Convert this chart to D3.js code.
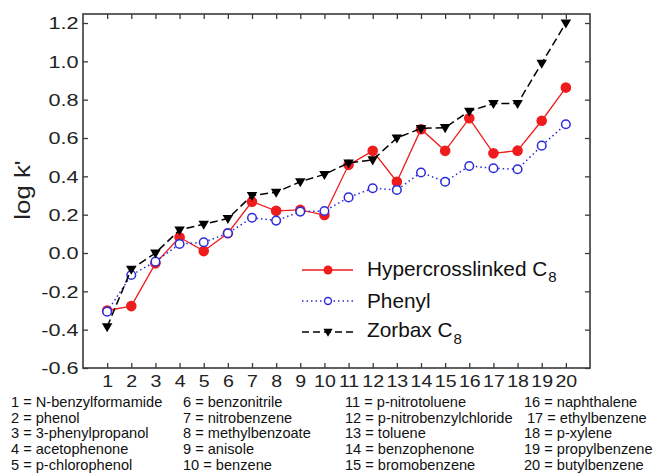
<!DOCTYPE html>
<html>
<head>
<meta charset="utf-8">
<script src="https://cdn.jsdelivr.net/npm/d3@7"></script>
<style>
  html, body { margin: 0; padding: 0; background: #fff; }
  svg { display: block; font-family: "Liberation Sans", Arial, Helvetica, sans-serif; }
</style>
</head>
<body>
<script>
// ---------------- data ----------------
const compounds = [
  "N-benzylformamide", "phenol", "3-phenylpropanol", "acetophenone", "p-chlorophenol",
  "benzonitrile", "nitrobenzene", "methylbenzoate", "anisole", "benzene",
  "p-nitrotoluene", "p-nitrobenzylchloride", "toluene", "benzophenone", "bromobenzene",
  "naphthalene", "ethylbenzene", "p-xylene", "propylbenzene", "butylbenzene"
];
const compoundIds = d3.range(1, 21);
const hypercrosslinkedC8 = [-0.30, -0.277, -0.054, 0.082, 0.01, 0.103, 0.268, 0.22, 0.225, 0.198,
                            0.46, 0.533, 0.372, 0.646, 0.533, 0.703, 0.52, 0.534, 0.69, 0.863];
const phenyl = [-0.306, -0.115, -0.045, 0.047, 0.056, 0.103, 0.184, 0.169, 0.216, 0.219,
                0.29, 0.338, 0.329, 0.42, 0.372, 0.454, 0.442, 0.437, 0.56, 0.672];
const zorbaxC8 = [-0.385, -0.085, 0.0, 0.12, 0.15, 0.18, 0.30, 0.317, 0.372, 0.41,
                  0.47, 0.486, 0.60, 0.65, 0.654, 0.74, 0.78, 0.78, 0.99, 1.20];
const yTicks = [-0.6, -0.4, -0.2, 0.0, 0.2, 0.4, 0.6, 0.8, 1.0, 1.2];
const seriesNames = ["Hypercrosslinked C", "Phenyl", "Zorbax C"];
const seriesSubs = ["8", "", "8"];
const yTitle = "log k'";

// ---------------- layout ----------------
const W = 653, H = 475;
const L = 83, R = 590, T = 14, B = 368;
const svg = d3.select("body").append("svg").attr("width", W).attr("height", H);

const x = d3.scaleLinear().domain([0, 21]).range([L, R]);
const y = d3.scaleLinear().domain([-0.6, 1.247]).range([B, T]);

const frameColor = "#3a3a3a";
const xTickScale = 1.2;
const yTickScale = 1.33;
const tickFont = 16.3;

// axes
const gx = svg.append("g").attr("transform", `translate(0,${B})`)
  .call(d3.axisBottom(x).tickValues(compoundIds).tickSizeInner(-5).tickSizeOuter(0).tickPadding(7.4).tickFormat(d3.format("d")));
const gxTop = svg.append("g").attr("transform", `translate(0,${T})`)
  .call(d3.axisTop(x).tickValues(compoundIds).tickSizeInner(-5).tickSizeOuter(0).tickFormat(""));
const gy = svg.append("g").attr("transform", `translate(${L},0)`)
  .call(d3.axisLeft(y).tickValues(yTicks).tickSizeInner(-5).tickSizeOuter(0).tickFormat(d3.format(".1f")));
const gyR = svg.append("g").attr("transform", `translate(${R},0)`)
  .call(d3.axisRight(y).tickValues(yTicks).tickSizeInner(-5).tickSizeOuter(0).tickFormat(""));

[gx, gxTop, gy, gyR].forEach(g => {
  g.select(".domain").remove();
  g.selectAll(".tick line").attr("stroke", frameColor).attr("stroke-width", 1.3);
});
gx.selectAll(".tick text")
  .attr("font-size", tickFont).attr("fill", "#222")
  .attr("font-family", "Liberation Sans, Arial, sans-serif")
  .attr("transform", `scale(${xTickScale},1)`);
gy.selectAll(".tick text")
  .attr("font-size", tickFont).attr("fill", "#222")
  .attr("font-family", "Liberation Sans, Arial, sans-serif")
  .attr("x", -4.5 / yTickScale)
  .attr("dy", "0.36em")
  .attr("transform", `scale(${yTickScale},1)`)
  .text(d => d3.format(".1f")(d).replace("−", "-"));

// frame
svg.append("rect").attr("x", L).attr("y", T).attr("width", R - L).attr("height", B - T)
  .attr("fill", "none").attr("stroke", frameColor).attr("stroke-width", 1.6);

// y title
svg.append("text")
  .attr("transform", `translate(30,190) rotate(-90) scale(1.2,1)`)
  .attr("text-anchor", "middle")
  .attr("font-size", 21.5).attr("fill", "#222")
  .text(yTitle);

// ---------------- series ----------------
const red = "#ee1c1c", blue = "#2b2bdc", black = "#000";
const line = d3.line().x((d, i) => x(compoundIds[i])).y(d => y(d));

const tri = d3.symbol().type(d3.symbolTriangle).size(48);

function drawRed(g) {
  g.append("path").datum(hypercrosslinkedC8).attr("d", line)
    .attr("fill", "none").attr("stroke", red).attr("stroke-width", 1.3);
  g.selectAll("circle.r").data(hypercrosslinkedC8).join("circle")
    .attr("cx", (d, i) => x(compoundIds[i])).attr("cy", d => y(d)).attr("r", 5.3)
    .attr("fill", red);
}
function drawBlue(g) {
  g.append("path").datum(phenyl).attr("d", line)
    .attr("fill", "none").attr("stroke", blue).attr("stroke-width", 1.5)
    .attr("stroke-dasharray", "1.5,3").attr("stroke-linecap", "butt");
  g.selectAll("circle.b").data(phenyl).join("circle")
    .attr("cx", (d, i) => x(compoundIds[i])).attr("cy", d => y(d)).attr("r", 4.3)
    .attr("fill", "#fff").attr("stroke", blue).attr("stroke-width", 1.5);
}
function drawBlack(g) {
  g.append("path").datum(zorbaxC8).attr("d", line)
    .attr("fill", "none").attr("stroke", black).attr("stroke-width", 1.5)
    .attr("stroke-dasharray", "8,4");
  g.selectAll("path.t").data(zorbaxC8).join("path")
    .attr("d", tri)
    .attr("transform", (d, i) => `translate(${x(compoundIds[i])},${y(d) - 0.5}) rotate(180)`)
    .attr("fill", black);
}
drawRed(svg.append("g"));
drawBlue(svg.append("g"));
drawBlack(svg.append("g"));

// ---------------- legend ----------------
const legRows = [270, 301, 332];
const legBase = [275.5, 307.5, 337];
const lg = svg.append("g");
// red
lg.append("line").attr("x1", 302).attr("x2", 353).attr("y1", legRows[0]).attr("y2", legRows[0])
  .attr("stroke", red).attr("stroke-width", 1.3);
lg.append("circle").attr("cx", 328).attr("cy", legRows[0]).attr("r", 4.5).attr("fill", red);
// blue
lg.append("line").attr("x1", 302).attr("x2", 353).attr("y1", legRows[1]).attr("y2", legRows[1])
  .attr("stroke", blue).attr("stroke-width", 1.3).attr("stroke-dasharray", "1.5,3");
lg.append("circle").attr("cx", 328).attr("cy", legRows[1]).attr("r", 3.5)
  .attr("fill", "#fff").attr("stroke", blue).attr("stroke-width", 1.4);
// black
lg.append("line").attr("x1", 302).attr("x2", 353).attr("y1", legRows[2]).attr("y2", legRows[2])
  .attr("stroke", black).attr("stroke-width", 1.4).attr("stroke-dasharray", "7,4");
lg.append("path").attr("d", d3.symbol().type(d3.symbolTriangle).size(36))
  .attr("transform", `translate(328,${legRows[2] - 0.5}) rotate(180)`).attr("fill", black);

seriesNames.forEach((nm, i) => {
  const t = lg.append("text").attr("x", 367).attr("y", legBase[i])
    .attr("font-size", 20.8).attr("fill", "#111");
  t.append("tspan").text(nm);
  if (seriesSubs[i]) t.append("tspan").attr("font-size", 15).attr("dy", 6.5).attr("dx", 1).text(seriesSubs[i]);
});

// ---------------- compound key ----------------
const colX = [11, 183, 345, 524];
const rowY = [406.7, 422.7, 438.4, 454.2, 470];
compounds.forEach((c, i) => {
  const col = Math.floor(i / 5), row = i % 5;
  let cx = colX[col];
  if (i === 16) cx += 3;
  svg.append("text").attr("x", cx).attr("y", rowY[row])
    .attr("font-size", 14.6).attr("fill", "#111")
    .text(`${compoundIds[i]} = ${c}`);
});
</script>
</body>
</html>
